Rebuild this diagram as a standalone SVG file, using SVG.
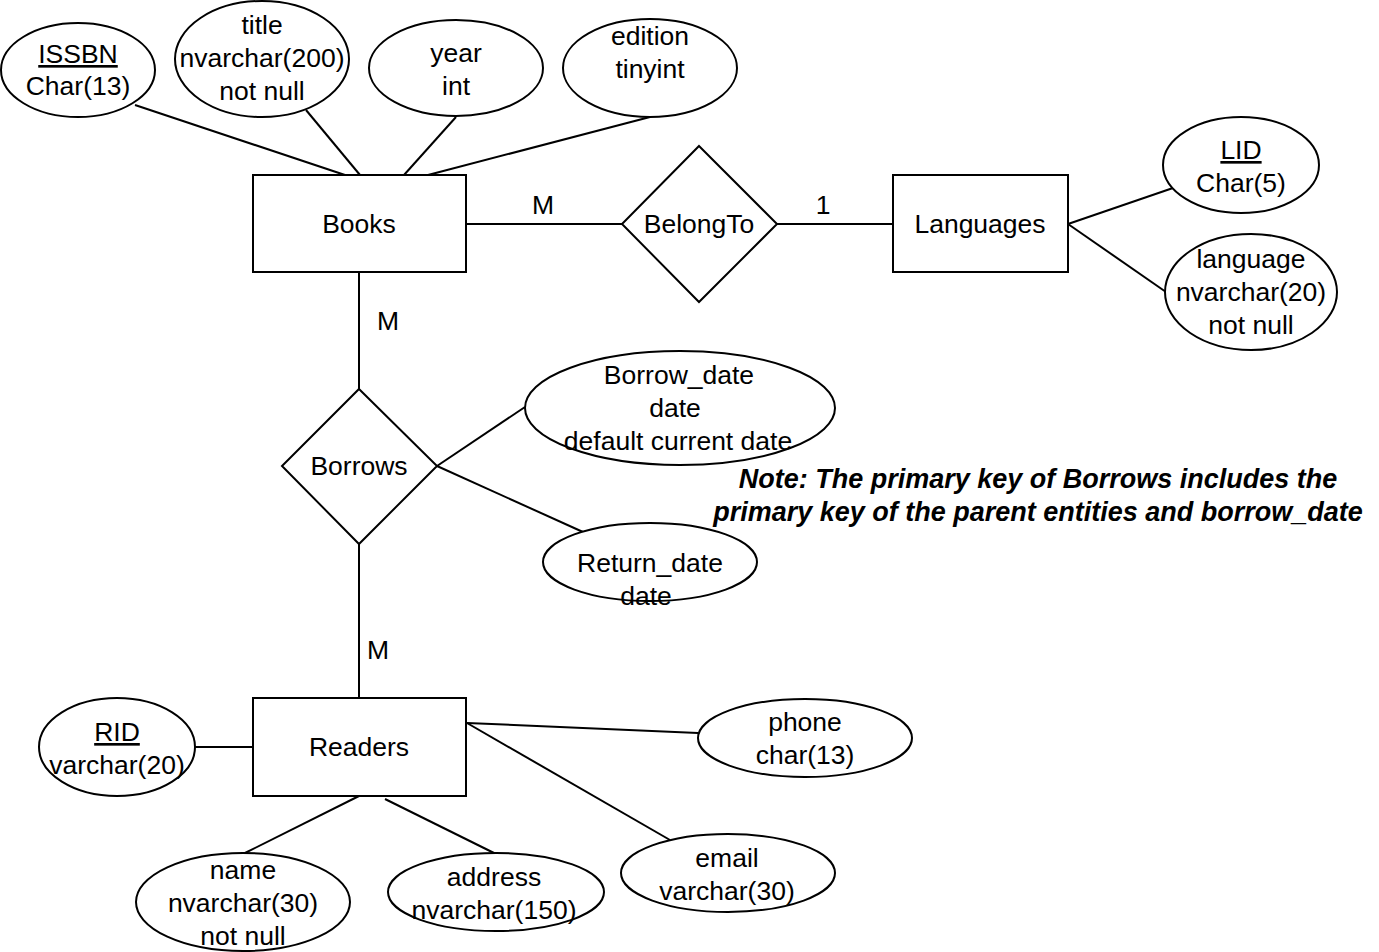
<svg xmlns="http://www.w3.org/2000/svg" width="1379" height="952" viewBox="0 0 1379 952">
  <style>
    .shape { fill: #ffffff; stroke: #000000; stroke-width: 2; }
    .link { stroke: #000000; stroke-width: 2; fill: none; }
    text { font-family: "Liberation Sans", Arial, sans-serif; font-size: 26.5px; fill: #000000; text-anchor: middle; }
    .key { text-decoration: underline; }
    .note { font-weight: bold; font-style: italic; font-size: 27px; }
  </style>
  <rect width="1379" height="952" fill="#ffffff"/>

  <!-- connectors -->
  <g id="connectors">
    <line class="link" x1="135" y1="105" x2="345" y2="175"/>
    <line class="link" x1="306" y1="110" x2="360" y2="175"/>
    <line class="link" x1="456" y1="117" x2="404" y2="175"/>
    <line class="link" x1="650" y1="117" x2="428" y2="175"/>
    <line class="link" x1="466" y1="224" x2="622" y2="224"/>
    <line class="link" x1="777" y1="224" x2="893" y2="224"/>
    <line class="link" x1="1068" y1="224" x2="1173" y2="188"/>
    <line class="link" x1="1068" y1="224" x2="1166" y2="292"/>
    <line class="link" x1="359" y1="272" x2="359" y2="389"/>
    <line class="link" x1="437" y1="466" x2="525" y2="407"/>
    <line class="link" x1="437" y1="466" x2="583" y2="532"/>
    <line class="link" x1="359" y1="544" x2="359" y2="698"/>
    <line class="link" x1="195" y1="747" x2="253" y2="747"/>
    <line class="link" x1="359" y1="796" x2="245" y2="853"/>
    <line class="link" x1="385" y1="799" x2="494" y2="853"/>
    <line class="link" x1="467" y1="723" x2="698" y2="733"/>
    <line class="link" x1="467" y1="723" x2="670" y2="840"/>
    <text x="543" y="214">M</text>
    <text x="823" y="214">1</text>
    <text x="388" y="330">M</text>
    <text x="378" y="659">M</text>
  </g>

  <!-- entities -->
  <g id="books">
    <rect class="shape" x="253" y="175" width="213" height="97"/>
    <text x="359" y="233">Books</text>
  </g>
  <g id="languages">
    <rect class="shape" x="893" y="175" width="175" height="97"/>
    <text x="980" y="233">Languages</text>
  </g>
  <g id="readers">
    <rect class="shape" x="253" y="698" width="213" height="98"/>
    <text x="359" y="756">Readers</text>
  </g>

  <!-- relationships -->
  <g id="belongto">
    <polygon class="shape" points="699,146 777,224 699,302 622,224"/>
    <text x="699" y="233">BelongTo</text>
  </g>
  <g id="borrows">
    <polygon class="shape" points="359,389 437,466 359,544 282,466"/>
    <text x="359" y="475">Borrows</text>
  </g>

  <!-- Books attributes -->
  <g id="attr-issbn">
    <ellipse class="shape" cx="78" cy="70" rx="77" ry="47"/>
    <text class="key" x="78" y="63">ISSBN</text>
    <text x="78" y="95">Char(13)</text>
  </g>
  <g id="attr-title">
    <ellipse class="shape" cx="262" cy="59" rx="87" ry="58"/>
    <text x="262" y="34">title</text>
    <text x="262" y="67">nvarchar(200)</text>
    <text x="262" y="100">not null</text>
  </g>
  <g id="attr-year">
    <ellipse class="shape" cx="456" cy="68" rx="87" ry="48"/>
    <text x="456" y="62">year</text>
    <text x="456" y="95">int</text>
  </g>
  <g id="attr-edition">
    <ellipse class="shape" cx="650" cy="68" rx="87" ry="49"/>
    <text x="650" y="45">edition</text>
    <text x="650" y="78">tinyint</text>
  </g>

  <!-- Languages attributes -->
  <g id="attr-lid">
    <ellipse class="shape" cx="1241" cy="165" rx="78" ry="48"/>
    <text class="key" x="1241" y="159">LID</text>
    <text x="1241" y="192">Char(5)</text>
  </g>
  <g id="attr-language">
    <ellipse class="shape" cx="1251" cy="292" rx="86" ry="58"/>
    <text x="1251" y="268">language</text>
    <text x="1251" y="301">nvarchar(20)</text>
    <text x="1251" y="334">not null</text>
  </g>

  <!-- Borrows attributes -->
  <g id="attr-borrow-date">
    <ellipse class="shape" cx="680" cy="408" rx="155" ry="57"/>
    <text x="679" y="384">Borrow_date</text>
    <text x="675" y="417">date</text>
    <text x="678" y="450">default current date</text>
  </g>
  <g id="attr-return-date">
    <ellipse class="shape" cx="650" cy="562" rx="107" ry="39"/>
    <text x="650" y="572">Return_date</text>
    <text x="646" y="605">date</text>
  </g>

  <!-- Readers attributes -->
  <g id="attr-rid">
    <ellipse class="shape" cx="117" cy="747" rx="78" ry="49"/>
    <text class="key" x="117" y="741">RID</text>
    <text x="117" y="774">varchar(20)</text>
  </g>
  <g id="attr-name">
    <ellipse class="shape" cx="243" cy="902" rx="107" ry="49"/>
    <text x="243" y="879">name</text>
    <text x="243" y="912">nvarchar(30)</text>
    <text x="243" y="945">not null</text>
  </g>
  <g id="attr-address">
    <ellipse class="shape" cx="496" cy="892" rx="108" ry="39"/>
    <text x="494" y="886">address</text>
    <text x="494" y="919">nvarchar(150)</text>
  </g>
  <g id="attr-email">
    <ellipse class="shape" cx="728" cy="873" rx="107" ry="39"/>
    <text x="727" y="867">email</text>
    <text x="727" y="900">varchar(30)</text>
  </g>
  <g id="attr-phone">
    <ellipse class="shape" cx="805" cy="738" rx="107" ry="39"/>
    <text x="805" y="731">phone</text>
    <text x="805" y="764">char(13)</text>
  </g>

  <!-- note -->
  <g id="note">
    <text class="note" x="1038" y="488">Note: The primary key of Borrows includes the</text>
    <text class="note" x="1038" y="521">primary key of the parent entities and borrow_date</text>
  </g>
</svg>
